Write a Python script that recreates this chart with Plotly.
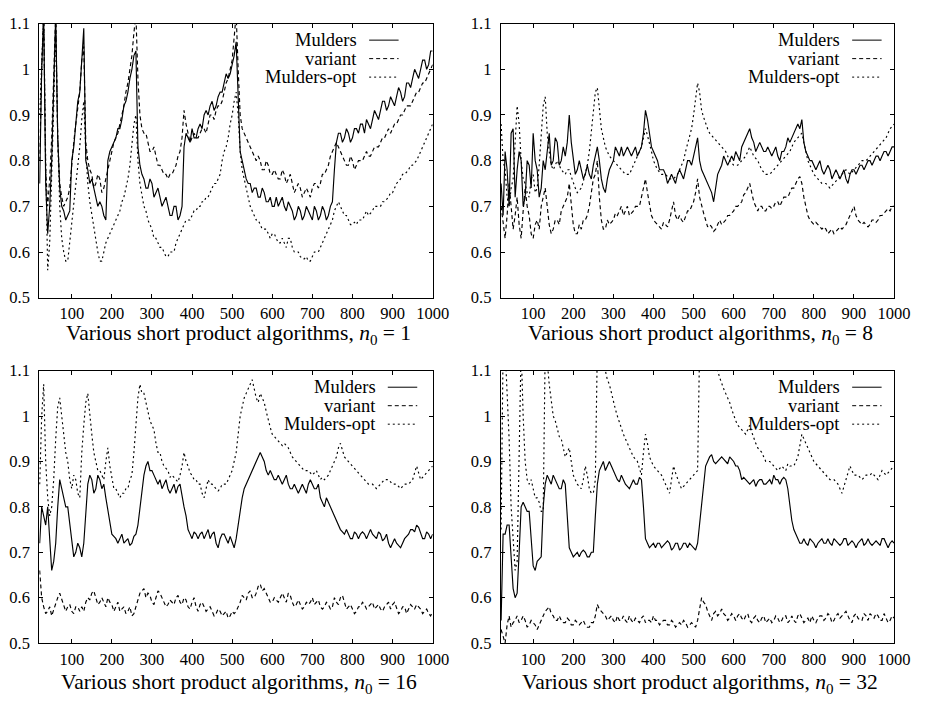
import plotly.graph_objects as go

# sample positions (n): main samples every 10 and in-between samples every 10 (offset 5)
n_values = list(range(20, 1001, 10))
n_mid = list(range(25, 1000, 10))

series_names = ["Mulders", "variant", "Mulders-opt"]

# ---- n0 = 1 ----
p1_mulders = [0.75,1.12,0.64,0.80,1.12,0.74,0.69,0.68,0.80,0.88,
              0.95,1.09,0.78,0.76,0.72,0.71,0.68,0.80,0.83,0.85,
              0.87,0.92,0.95,1.00,1.04,0.79,0.76,0.74,0.75,0.73,
              0.72,0.71,0.70,0.68,0.70,0.68,0.83,0.85,0.87,0.85,
              0.88,0.90,0.90,0.93,0.92,0.95,0.97,0.98,1.01,1.06,
              0.82,0.78,0.75,0.73,0.74,0.72,0.73,0.71,0.70,0.72,
              0.71,0.70,0.71,0.69,0.68,0.69,0.68,0.69,0.67,0.69,
              0.68,0.69,0.68,0.71,0.84,0.86,0.85,0.86,0.85,0.87,
              0.88,0.86,0.88,0.89,0.90,0.91,0.93,0.92,0.93,0.94,
              0.95,0.94,0.97,0.98,0.99,1.00,1.02,1.01,1.04]
p1_mulders_mid = [1.00,0.75,0.70,0.95,0.85,0.70,0.67,0.69,0.83,0.93,
                  1.02,0.80,0.75,0.74,0.70,0.70,0.67,0.82,0.84,0.87,
                  0.89,0.93,0.98,1.03,0.83,0.77,0.74,0.76,0.72,0.74,
                  0.70,0.72,0.68,0.70,0.67,0.70,0.86,0.84,0.85,0.87,
                  0.87,0.91,0.92,0.91,0.94,0.95,0.99,0.99,1.03,0.95,
                  0.80,0.76,0.75,0.74,0.72,0.74,0.71,0.72,0.70,0.70,
                  0.72,0.69,0.70,0.67,0.70,0.67,0.70,0.68,0.70,0.67,
                  0.70,0.67,0.70,0.78,0.86,0.84,0.87,0.84,0.87,0.86,
                  0.88,0.89,0.87,0.91,0.89,0.93,0.91,0.94,0.92,0.96,
                  0.93,0.97,0.96,1.00,0.98,1.02,1.00,1.04]
p1_variant = [0.80,1.12,0.70,0.85,1.12,0.75,0.70,0.72,0.80,0.88,
              0.95,1.05,0.80,0.77,0.75,0.76,0.74,0.78,0.82,0.85,
              0.88,0.92,0.97,1.03,1.12,0.90,0.86,0.84,0.82,0.81,
              0.79,0.77,0.76,0.77,0.79,0.82,0.91,0.86,0.85,0.85,
              0.86,0.87,0.88,0.90,0.91,0.92,0.95,0.98,1.02,1.12,
              0.90,0.86,0.84,0.82,0.80,0.80,0.78,0.79,0.77,0.77,
              0.76,0.77,0.76,0.75,0.74,0.74,0.73,0.73,0.74,0.75,
              0.75,0.77,0.79,0.82,0.84,0.82,0.80,0.79,0.80,0.79,
              0.80,0.81,0.81,0.82,0.83,0.84,0.85,0.87,0.87,0.88,
              0.90,0.91,0.92,0.93,0.95,0.96,0.97,0.99,1.01]
p1_variant_mid = [1.00,0.78,0.76,0.98,0.85,0.72,0.71,0.74,0.84,0.92,
                  1.02,0.84,0.78,0.74,0.77,0.73,0.76,0.80,0.84,0.86,
                  0.90,0.95,1.00,1.08,0.98,0.87,0.86,0.82,0.83,0.79,
                  0.78,0.77,0.77,0.78,0.81,0.85,0.88,0.84,0.86,0.85,
                  0.87,0.86,0.90,0.89,0.92,0.93,0.97,1.00,1.07,1.00,
                  0.87,0.85,0.83,0.81,0.81,0.78,0.80,0.77,0.78,0.76,
                  0.78,0.75,0.77,0.73,0.75,0.72,0.74,0.72,0.75,0.74,
                  0.77,0.78,0.81,0.83,0.83,0.81,0.79,0.81,0.78,0.80,
                  0.80,0.82,0.81,0.83,0.83,0.85,0.86,0.86,0.88,0.89,
                  0.90,0.92,0.92,0.94,0.95,0.97,0.98,1.00]
p1_opt = [0.90,1.12,0.56,0.75,1.10,0.70,0.60,0.58,0.66,0.74,
          0.83,0.93,0.75,0.68,0.62,0.58,0.60,0.63,0.65,0.67,
          0.69,0.72,0.76,0.83,0.90,0.75,0.70,0.67,0.65,0.63,
          0.61,0.60,0.59,0.60,0.62,0.64,0.66,0.67,0.68,0.69,
          0.70,0.71,0.72,0.74,0.75,0.77,0.82,0.85,0.90,0.95,
          0.82,0.76,0.72,0.69,0.67,0.66,0.65,0.64,0.64,0.63,
          0.62,0.62,0.63,0.61,0.60,0.59,0.585,0.58,0.59,0.60,
          0.61,0.63,0.65,0.67,0.70,0.70,0.68,0.67,0.66,0.66,
          0.67,0.68,0.68,0.69,0.70,0.70,0.71,0.72,0.73,0.75,
          0.76,0.77,0.78,0.79,0.80,0.82,0.84,0.86,0.88]
p1_opt_mid = [1.00,0.80,0.62,0.92,0.85,0.63,0.58,0.62,0.70,0.79,
              0.89,0.82,0.71,0.65,0.60,0.58,0.62,0.64,0.66,0.68,
              0.71,0.74,0.79,0.88,0.80,0.72,0.69,0.66,0.63,0.62,
              0.61,0.59,0.60,0.60,0.63,0.65,0.67,0.67,0.69,0.70,
              0.71,0.72,0.73,0.75,0.76,0.80,0.83,0.88,0.93,0.90,
              0.78,0.74,0.70,0.68,0.67,0.65,0.65,0.63,0.64,0.62,
              0.63,0.61,0.63,0.60,0.60,0.585,0.59,0.58,0.60,0.60,
              0.62,0.64,0.66,0.69,0.71,0.69,0.68,0.66,0.665,0.67,
              0.67,0.69,0.685,0.70,0.70,0.71,0.715,0.73,0.74,0.755,
              0.77,0.775,0.79,0.795,0.81,0.83,0.85,0.87]

# ---- n0 = 8 ----
p2_mulders = [0.75,0.82,0.70,0.87,0.78,0.80,0.72,0.79,0.86,0.78,
              0.74,0.78,0.86,0.80,0.84,0.80,0.81,0.90,0.80,0.78,
              0.78,0.77,0.77,0.79,0.83,0.76,0.73,0.78,0.80,0.82,
              0.83,0.82,0.82,0.82,0.81,0.83,0.91,0.86,0.82,0.80,
              0.78,0.77,0.76,0.76,0.77,0.77,0.78,0.80,0.81,0.85,
              0.78,0.76,0.74,0.71,0.77,0.79,0.80,0.80,0.80,0.81,
              0.83,0.85,0.87,0.84,0.83,0.83,0.82,0.82,0.82,0.81,
              0.82,0.83,0.84,0.86,0.88,0.89,0.82,0.80,0.79,0.79,
              0.78,0.78,0.78,0.77,0.77,0.77,0.76,0.77,0.78,0.78,
              0.79,0.79,0.80,0.80,0.81,0.81,0.82,0.82,0.83]
p2_mulders_mid = [0.68,0.78,0.86,0.72,0.82,0.70,0.80,0.74,0.80,0.72,
                  0.80,0.82,0.79,0.85,0.79,0.83,0.84,0.84,0.77,0.80,
                  0.76,0.79,0.76,0.81,0.80,0.74,0.76,0.79,0.83,0.81,
                  0.81,0.83,0.81,0.83,0.82,0.86,0.89,0.83,0.81,0.78,
                  0.78,0.75,0.77,0.75,0.78,0.76,0.80,0.79,0.83,0.80,
                  0.77,0.75,0.73,0.74,0.78,0.81,0.79,0.81,0.82,0.80,
                  0.84,0.86,0.85,0.82,0.84,0.82,0.83,0.81,0.83,0.80,
                  0.82,0.85,0.85,0.87,0.87,0.84,0.81,0.80,0.78,0.80,
                  0.77,0.79,0.76,0.78,0.76,0.78,0.75,0.78,0.77,0.79,
                  0.78,0.80,0.79,0.81,0.80,0.82,0.81,0.83]
p2_variant = [0.70,0.63,0.75,0.65,0.72,0.63,0.74,0.68,0.63,0.67,
              0.70,0.74,0.66,0.65,0.67,0.69,0.71,0.75,0.66,0.64,
              0.65,0.67,0.70,0.76,0.80,0.67,0.65,0.66,0.67,0.68,
              0.70,0.69,0.68,0.69,0.70,0.72,0.76,0.70,0.67,0.66,
              0.65,0.66,0.67,0.71,0.67,0.67,0.68,0.69,0.71,0.76,
              0.70,0.67,0.66,0.645,0.66,0.66,0.67,0.68,0.69,0.70,
              0.71,0.73,0.75,0.71,0.69,0.70,0.69,0.70,0.70,0.71,
              0.71,0.72,0.73,0.74,0.76,0.75,0.70,0.67,0.66,0.66,
              0.65,0.65,0.645,0.64,0.65,0.65,0.66,0.68,0.70,0.67,
              0.66,0.66,0.66,0.67,0.67,0.68,0.69,0.69,0.70]
p2_variant_mid = [0.66,0.68,0.70,0.68,0.66,0.69,0.70,0.64,0.66,0.65,
                  0.72,0.70,0.64,0.67,0.66,0.70,0.72,0.70,0.64,0.66,
                  0.67,0.68,0.73,0.77,0.72,0.65,0.67,0.665,0.685,0.69,
                  0.68,0.70,0.685,0.70,0.70,0.74,0.73,0.68,0.665,0.655,
                  0.665,0.655,0.69,0.68,0.68,0.665,0.69,0.70,0.73,0.72,
                  0.685,0.655,0.655,0.65,0.67,0.665,0.68,0.685,0.70,0.705,
                  0.725,0.74,0.73,0.70,0.70,0.69,0.70,0.695,0.71,0.70,
                  0.72,0.72,0.74,0.75,0.765,0.72,0.68,0.665,0.665,0.655,
                  0.655,0.64,0.65,0.645,0.655,0.655,0.67,0.69,0.68,0.665,
                  0.665,0.655,0.67,0.665,0.68,0.685,0.695,0.70]
p2_opt = [0.88,0.78,0.70,0.76,0.92,0.80,0.75,0.72,0.77,0.74,
          0.85,0.94,0.82,0.78,0.80,0.78,0.77,0.78,0.75,0.73,
          0.74,0.77,0.82,0.90,0.96,0.87,0.83,0.81,0.80,0.79,
          0.78,0.77,0.77,0.79,0.81,0.83,0.87,0.84,0.80,0.78,
          0.77,0.77,0.76,0.76,0.77,0.79,0.82,0.85,0.90,0.97,
          0.91,0.88,0.86,0.85,0.84,0.83,0.82,0.80,0.79,0.79,
          0.80,0.81,0.83,0.81,0.80,0.78,0.77,0.77,0.78,0.79,
          0.80,0.81,0.82,0.84,0.85,0.86,0.82,0.79,0.77,0.76,
          0.75,0.75,0.74,0.75,0.76,0.77,0.78,0.77,0.78,0.79,
          0.80,0.80,0.81,0.82,0.83,0.84,0.85,0.87,0.88]
p2_opt_mid = [0.80,0.72,0.74,0.84,0.88,0.76,0.73,0.76,0.73,0.79,
              0.92,0.86,0.79,0.79,0.79,0.775,0.78,0.765,0.74,0.735,
              0.755,0.79,0.86,0.95,0.91,0.85,0.82,0.805,0.795,0.785,
              0.775,0.77,0.78,0.80,0.82,0.85,0.855,0.82,0.79,0.775,
              0.77,0.765,0.76,0.765,0.78,0.80,0.835,0.87,0.94,0.95,
              0.895,0.87,0.855,0.845,0.835,0.825,0.81,0.795,0.79,0.795,
              0.805,0.82,0.82,0.805,0.79,0.775,0.77,0.775,0.785,0.795,
              0.805,0.815,0.83,0.845,0.855,0.84,0.80,0.78,0.765,0.755,
              0.75,0.745,0.745,0.755,0.765,0.775,0.775,0.775,0.785,0.795,
              0.80,0.805,0.815,0.825,0.835,0.845,0.86,0.875]

# ---- n0 = 16 ----
p3_mulders = [0.72,0.78,0.80,0.66,0.72,0.86,0.82,0.80,0.72,0.70,
              0.71,0.72,0.85,0.86,0.84,0.86,0.85,0.79,0.74,0.73,
              0.73,0.72,0.73,0.72,0.74,0.80,0.87,0.90,0.88,0.86,
              0.86,0.85,0.84,0.84,0.83,0.85,0.80,0.75,0.73,0.74,
              0.74,0.73,0.75,0.74,0.72,0.73,0.74,0.72,0.72,0.73,
              0.80,0.84,0.86,0.88,0.90,0.92,0.90,0.87,0.87,0.86,
              0.86,0.86,0.85,0.84,0.84,0.84,0.84,0.85,0.85,0.84,
              0.82,0.80,0.81,0.79,0.77,0.75,0.74,0.74,0.73,0.74,
              0.74,0.74,0.74,0.74,0.73,0.74,0.73,0.72,0.72,0.72,
              0.71,0.73,0.74,0.75,0.76,0.74,0.73,0.74,0.74]
p3_mulders_mid = [0.80,0.76,0.72,0.68,0.80,0.84,0.80,0.76,0.69,0.72,
                  0.69,0.78,0.87,0.83,0.87,0.84,0.82,0.76,0.735,0.72,
                  0.74,0.725,0.715,0.735,0.76,0.84,0.89,0.88,0.87,0.85,
                  0.84,0.86,0.83,0.85,0.845,0.82,0.78,0.74,0.745,0.73,
                  0.745,0.74,0.73,0.745,0.71,0.74,0.73,0.735,0.71,0.76,
                  0.82,0.85,0.87,0.89,0.91,0.91,0.88,0.88,0.86,0.87,
                  0.85,0.87,0.84,0.85,0.83,0.85,0.83,0.86,0.84,0.85,
                  0.81,0.82,0.80,0.78,0.76,0.745,0.75,0.73,0.745,0.73,
                  0.745,0.73,0.75,0.735,0.745,0.725,0.74,0.71,0.73,0.715,
                  0.72,0.735,0.75,0.745,0.755,0.73,0.745,0.73]
p3_variant = [0.66,0.58,0.57,0.56,0.59,0.61,0.58,0.58,0.57,0.58,
              0.57,0.57,0.60,0.61,0.60,0.59,0.59,0.60,0.585,0.58,
              0.57,0.58,0.57,0.56,0.58,0.61,0.62,0.61,0.59,0.60,
              0.61,0.59,0.585,0.59,0.60,0.59,0.60,0.58,0.59,0.58,
              0.585,0.58,0.575,0.57,0.565,0.57,0.565,0.555,0.57,0.57,
              0.59,0.60,0.61,0.60,0.61,0.63,0.62,0.60,0.59,0.595,
              0.60,0.60,0.61,0.59,0.585,0.585,0.58,0.585,0.60,0.59,
              0.58,0.58,0.585,0.58,0.59,0.60,0.59,0.58,0.575,0.57,
              0.58,0.585,0.58,0.59,0.58,0.575,0.58,0.59,0.585,0.575,
              0.57,0.58,0.575,0.58,0.585,0.575,0.57,0.565,0.57]
p3_variant_mid = [0.60,0.565,0.58,0.575,0.60,0.595,0.57,0.585,0.565,0.58,
                  0.58,0.59,0.595,0.615,0.585,0.60,0.58,0.59,0.57,0.59,
                  0.575,0.565,0.58,0.565,0.60,0.615,0.60,0.605,0.585,0.615,
                  0.60,0.58,0.595,0.585,0.605,0.585,0.595,0.575,0.60,0.57,
                  0.59,0.57,0.58,0.56,0.575,0.56,0.57,0.56,0.565,0.58,
                  0.605,0.595,0.615,0.60,0.625,0.615,0.61,0.59,0.60,0.59,
                  0.61,0.59,0.605,0.58,0.595,0.575,0.59,0.59,0.585,0.595,
                  0.575,0.59,0.575,0.60,0.585,0.605,0.575,0.585,0.565,0.58,
                  0.59,0.575,0.585,0.575,0.585,0.57,0.585,0.575,0.59,0.565,
                  0.58,0.565,0.585,0.575,0.58,0.565,0.575,0.56]
p3_opt = [0.85,1.07,0.82,0.80,0.95,1.04,0.95,0.90,0.84,0.86,
          0.82,0.98,1.05,0.96,0.90,0.88,0.86,0.93,0.86,0.84,
          0.82,0.83,0.84,0.87,0.98,1.07,1.05,1.01,0.98,0.94,
          0.92,0.89,0.88,0.87,0.86,0.87,0.92,0.89,0.87,0.86,
          0.85,0.82,0.86,0.85,0.84,0.84,0.85,0.86,0.88,0.92,
          1.00,1.04,1.06,1.08,1.04,1.05,1.03,0.99,0.96,0.95,
          0.94,0.94,0.93,0.91,0.90,0.89,0.88,0.88,0.87,0.88,
          0.86,0.86,0.87,0.89,0.91,0.94,0.91,0.90,0.89,0.88,
          0.87,0.86,0.85,0.85,0.84,0.85,0.86,0.86,0.85,0.85,
          0.84,0.85,0.85,0.86,0.89,0.86,0.87,0.88,0.89]
p3_opt_mid = [1.00,0.90,0.78,0.86,1.02,1.00,0.92,0.86,0.87,0.83,
              0.92,1.03,1.00,0.92,0.88,0.87,0.90,0.89,0.84,0.83,
              0.83,0.84,0.86,0.92,1.04,1.05,1.03,0.99,0.97,0.92,
              0.90,0.885,0.865,0.865,0.855,0.89,0.90,0.875,0.86,0.85,
              0.83,0.84,0.85,0.845,0.835,0.85,0.85,0.87,0.90,0.96,
              1.02,1.05,1.07,1.06,1.03,1.04,1.01,0.975,0.955,0.945,
              0.935,0.935,0.92,0.905,0.895,0.885,0.88,0.875,0.875,0.87,
              0.865,0.865,0.88,0.90,0.93,0.925,0.905,0.895,0.885,0.875,
              0.865,0.855,0.85,0.845,0.845,0.855,0.86,0.855,0.85,0.845,
              0.845,0.85,0.855,0.875,0.875,0.865,0.875,0.885]

# ---- n0 = 32 ----
p4_mulders = [0.55,0.74,0.76,0.62,0.61,0.80,0.80,0.79,0.67,0.68,
              0.69,0.85,0.86,0.87,0.85,0.84,0.85,0.71,0.69,0.70,
              0.70,0.70,0.69,0.70,0.85,0.89,0.88,0.90,0.88,0.86,
              0.87,0.85,0.84,0.86,0.85,0.86,0.73,0.71,0.72,0.72,
              0.71,0.72,0.72,0.71,0.72,0.71,0.72,0.72,0.71,0.72,
              0.80,0.89,0.91,0.90,0.90,0.91,0.90,0.91,0.90,0.89,
              0.86,0.86,0.85,0.86,0.855,0.86,0.85,0.86,0.87,0.86,
              0.86,0.86,0.80,0.75,0.73,0.72,0.72,0.73,0.72,0.72,
              0.73,0.72,0.72,0.73,0.72,0.72,0.73,0.72,0.72,0.72,
              0.73,0.72,0.72,0.72,0.72,0.73,0.72,0.72,0.72]
p4_mulders_mid = [0.74,0.76,0.70,0.60,0.70,0.81,0.79,0.72,0.66,0.685,
                  0.80,0.87,0.85,0.86,0.84,0.86,0.78,0.70,0.695,0.69,
                  0.705,0.69,0.70,0.78,0.88,0.90,0.89,0.89,0.87,0.855,
                  0.86,0.845,0.85,0.85,0.865,0.80,0.72,0.715,0.71,0.72,
                  0.715,0.725,0.705,0.72,0.705,0.72,0.71,0.715,0.705,0.76,
                  0.85,0.90,0.915,0.895,0.905,0.905,0.895,0.905,0.89,0.88,
                  0.865,0.855,0.855,0.845,0.86,0.85,0.855,0.85,0.86,0.85,
                  0.865,0.84,0.77,0.74,0.72,0.73,0.715,0.725,0.71,0.725,
                  0.72,0.73,0.715,0.725,0.715,0.73,0.715,0.725,0.71,0.725,
                  0.715,0.73,0.715,0.725,0.715,0.73,0.71,0.725]
p4_variant = [0.53,0.50,0.56,0.545,0.56,0.55,0.55,0.54,0.545,0.53,
              0.55,0.57,0.58,0.56,0.55,0.55,0.545,0.55,0.54,0.545,
              0.545,0.54,0.535,0.545,0.585,0.57,0.56,0.555,0.55,0.56,
              0.55,0.55,0.56,0.545,0.55,0.555,0.545,0.55,0.56,0.55,
              0.545,0.55,0.54,0.545,0.54,0.54,0.545,0.54,0.54,0.55,
              0.60,0.585,0.56,0.565,0.56,0.575,0.56,0.555,0.56,0.56,
              0.555,0.56,0.55,0.555,0.55,0.555,0.545,0.555,0.55,0.555,
              0.55,0.56,0.55,0.55,0.56,0.555,0.55,0.545,0.55,0.555,
              0.56,0.555,0.56,0.55,0.565,0.56,0.57,0.55,0.56,0.555,
              0.55,0.56,0.565,0.555,0.56,0.55,0.555,0.55,0.555]
p4_variant_mid = [0.515,0.54,0.535,0.55,0.545,0.56,0.535,0.55,0.54,0.54,
                  0.56,0.575,0.565,0.55,0.56,0.545,0.555,0.54,0.55,0.54,
                  0.55,0.535,0.545,0.56,0.575,0.565,0.55,0.56,0.545,0.55,
                  0.56,0.545,0.55,0.555,0.545,0.56,0.55,0.545,0.55,0.54,
                  0.55,0.54,0.55,0.535,0.545,0.55,0.535,0.545,0.535,0.58,
                  0.59,0.57,0.55,0.57,0.565,0.565,0.55,0.565,0.55,0.565,
                  0.55,0.565,0.545,0.56,0.545,0.56,0.55,0.545,0.56,0.545,
                  0.56,0.545,0.56,0.545,0.565,0.545,0.555,0.56,0.545,0.56,
                  0.55,0.565,0.545,0.56,0.555,0.565,0.56,0.545,0.565,0.55,
                  0.565,0.55,0.56,0.565,0.55,0.565,0.545,0.56]
p4_opt = [0.75,1.15,0.95,0.72,0.68,1.15,0.90,0.85,0.84,0.82,
          0.79,1.15,1.07,1.00,0.97,0.95,0.91,0.93,0.87,0.85,
          0.84,0.89,0.84,0.83,1.15,1.15,1.10,1.07,1.03,1.00,
          0.97,0.95,0.93,0.91,0.90,0.87,0.96,0.91,0.89,0.88,
          0.87,0.85,0.83,0.89,0.86,0.84,0.85,0.86,0.87,0.88,
          1.15,1.15,1.15,1.15,1.10,1.07,1.05,1.03,1.00,0.98,
          0.97,0.96,0.98,0.95,0.93,0.92,0.90,0.90,0.89,0.88,
          0.89,0.88,0.89,0.89,0.91,0.96,0.94,0.92,0.90,0.89,
          0.88,0.87,0.86,0.86,0.85,0.83,0.86,0.89,0.87,0.87,
          0.86,0.87,0.87,0.87,0.86,0.88,0.87,0.88,0.89]
p4_opt_mid = [1.15,1.05,0.80,0.66,0.95,1.00,0.86,0.86,0.82,0.81,
              0.79,1.12,1.03,0.99,0.955,0.93,0.92,0.90,0.86,0.845,
              0.86,0.87,0.83,0.86,1.15,1.15,1.08,1.05,1.015,0.985,
              0.96,0.94,0.92,0.905,0.885,0.92,0.94,0.90,0.885,0.875,
              0.86,0.84,0.86,0.875,0.85,0.845,0.855,0.865,0.875,1.15,
              1.15,1.15,1.15,1.13,1.085,1.06,1.04,1.015,0.99,0.975,
              0.965,0.97,0.965,0.94,0.925,0.91,0.90,0.895,0.885,0.885,
              0.885,0.895,0.89,0.90,0.935,0.95,0.93,0.91,0.895,0.885,
              0.875,0.865,0.86,0.855,0.84,0.845,0.875,0.88,0.87,0.865,
              0.865,0.87,0.875,0.865,0.87,0.875,0.875,0.885]

panel_titles = ["1", "8", "16", "32"]
x_tick_vals = [100, 200, 300, 400, 500, 600, 700, 800, 900, 1000]
y_tick_vals = [0.5, 0.6, 0.7, 0.8, 0.9, 1.0, 1.1]
y_tick_text = ["0.5", "0.6", "0.7", "0.8", "0.9", "1", "1.1"]

panels = [
    ((p1_mulders, p1_mulders_mid), (p1_variant, p1_variant_mid), (p1_opt, p1_opt_mid)),
    ((p2_mulders, p2_mulders_mid), (p2_variant, p2_variant_mid), (p2_opt, p2_opt_mid)),
    ((p3_mulders, p3_mulders_mid), (p3_variant, p3_variant_mid), (p3_opt, p3_opt_mid)),
    ((p4_mulders, p4_mulders_mid), (p4_variant, p4_variant_mid), (p4_opt, p4_opt_mid)),
]


def interleave(main, mid):
    xs, ys = [], []
    for i, v in enumerate(main):
        xs.append(n_values[i])
        ys.append(v)
        if i < len(mid):
            xs.append(n_mid[i])
            ys.append(mid[i])
    return xs, ys


W, H = 932, 704
FONT = "Liberation Serif, Times New Roman, Times, serif"
dashes = ["solid", "4px,3px", "2px,3px"]

# pixel boxes of the four plot areas: (left, right, top, bottom)
boxes = [(40, 440.7, 15, 296.7), (510, 910.7, 15, 296.7),
         (40, 440.7, 371.7, 651.7), (510, 910.7, 371.7, 651.7)]
legend_text_right = [366, 858, 385, 858]
title_offset = [38, 38, 41, 41]
xtick_standoff = [1, 1, 1, 1]


def px(x):
    return x / W


def py(y):
    return 1 - y / H


fig = go.Figure()
layout = dict(width=W, height=H, margin=dict(l=0, r=0, t=0, b=0),
              paper_bgcolor="white", plot_bgcolor="white", showlegend=False,
              font=dict(family=FONT, color="black"))
annotations = []
shapes = []

for i, (series, box) in enumerate(zip(panels, boxes)):
    k = "" if i == 0 else str(i + 1)
    for name, (main, mid), dash in zip(series_names, series, dashes):
        xs, ys = interleave(main, mid)
        fig.add_trace(go.Scatter(x=xs, y=ys, mode="lines", name=name,
                                 line=dict(color="black", width=1.15, dash=dash),
                                 xaxis="x" + k, yaxis="y" + k, hoverinfo="skip"))
    l, r, t, b = box
    common = dict(showline=True, linecolor="black", linewidth=1, mirror="ticks",
                  ticks="inside", ticklen=4, tickcolor="black", showgrid=False,
                  zeroline=False, tickfont=dict(family=FONT, size=16.5, color="black"))
    layout["xaxis" + k] = dict(common, domain=[px(l), px(r)], range=[19, 1000],
                               tickvals=x_tick_vals, anchor="y" + k,
                               ticklabelstandoff=xtick_standoff[i])
    layout["yaxis" + k] = dict(common, domain=[py(b), py(t)], range=[0.5, 1.1],
                               tickvals=y_tick_vals, ticktext=y_tick_text,
                               anchor="x" + k, ticklabelstandoff=5)
    # x-axis caption
    annotations.append(dict(
        text="Various short product algorithms, <i>n</i><sub>0</sub> = " + panel_titles[i],
        xref="paper", yref="paper", x=px((l + r) / 2 + 3), y=py(b + title_offset[i]),
        xanchor="center", yanchor="middle", showarrow=False,
        font=dict(family=FONT, size=21.5, color="black")))
    # legend
    tr = legend_text_right[i]
    for j, (name, dash) in enumerate(zip(series_names, dashes)):
        yy = t + 17 + 19 * j
        annotations.append(dict(text=name, xref="paper", yref="paper",
                                x=px(tr), y=py(yy), xanchor="right", yanchor="middle",
                                showarrow=False, font=dict(family=FONT, size=18.5, color="black")))
        shapes.append(dict(type="line", xref="paper", yref="paper",
                           x0=px(tr + 10), x1=px(tr + 40), y0=py(yy), y1=py(yy),
                           line=dict(color="black", width=1, dash=dash)))

layout["annotations"] = annotations
layout["shapes"] = shapes
fig.update_layout(**layout)
fig.write_html("out.html", config={"displayModeBar": False},
               post_script="document.body.style.margin='0';document.body.style.overflow='hidden';")
